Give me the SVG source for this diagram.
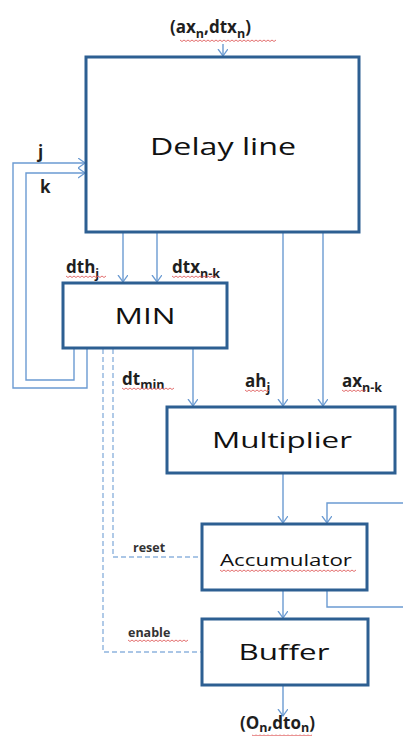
<svg xmlns="http://www.w3.org/2000/svg" width="403" height="736" viewBox="0 0 403 736">
  <defs>
    <marker id="vee" markerUnits="userSpaceOnUse" markerWidth="10" markerHeight="12" refX="7" refY="5" orient="auto">
      <path d="M0,0 L7,5 L0,10" fill="none" stroke="#6b9bd2" stroke-width="1.3"/>
    </marker>
    <style>
      .box { fill: #ffffff; stroke: #2d5f92; stroke-width: 3; }
      .wire { fill: none; stroke: #6b9bd2; stroke-width: 1.4; }
      .ctl { fill: none; stroke: #8fb4de; stroke-width: 1.4; stroke-dasharray: 5 3; }
      .title { font-family: "Open Sans", "DejaVu Sans", sans-serif; fill: #111111; text-anchor: middle; font-weight: 500; }
      .lbl { font-family: "Open Sans", "DejaVu Sans", sans-serif; font-weight: bold; fill: #1f1f1f; font-size: 17px; }
      .small { font-family: "Open Sans", "DejaVu Sans", sans-serif; font-weight: bold; fill: #333333; font-size: 12.5px; }
      .sub { font-size: 12.5px; }
      .squig { fill: none; stroke: #e06060; stroke-width: 0.9; }
    </style>
  </defs>

  <!-- connectors -->
  <g id="connectors">
    <path class="wire" d="M223,44 V56" marker-end="url(#vee)"/>
    <path class="wire" d="M87,349 V388 H13 V163 H85" marker-end="url(#vee)"/>
    <path class="wire" d="M74,349 V380 H26 V173 H85" marker-end="url(#vee)"/>
    <path class="wire" d="M123,233 V282" marker-end="url(#vee)"/>
    <path class="wire" d="M157,233 V282" marker-end="url(#vee)"/>
    <path class="wire" d="M283,233 V406" marker-end="url(#vee)"/>
    <path class="wire" d="M323,233 V406" marker-end="url(#vee)"/>
    <path class="wire" d="M193,349 V406" marker-end="url(#vee)"/>
    <path class="wire" d="M283,474 V523" marker-end="url(#vee)"/>
    <path class="wire" d="M327,591 V607 H406 V503 H327 V523" marker-end="url(#vee)"/>
    <path class="wire" d="M283,591 V618" marker-end="url(#vee)"/>
    <path class="wire" d="M283,686 V716" marker-end="url(#vee)"/>
    <path class="ctl" d="M113,349 V557 H201"/>
    <path class="ctl" d="M103,349 V652 H201"/>
  </g>

  <!-- blocks -->
  <g id="delay-line">
    <rect class="box" x="86" y="57" width="273" height="175"/>
    <text class="title" x="223" y="155" font-size="24" textLength="146" lengthAdjust="spacingAndGlyphs">Delay line</text>
  </g>
  <g id="min">
    <rect class="box" x="63" y="283" width="164" height="65"/>
    <text class="title" x="145" y="324" font-size="22" textLength="61" lengthAdjust="spacingAndGlyphs">MIN</text>
  </g>
  <g id="multiplier">
    <rect class="box" x="167" y="407" width="228" height="66"/>
    <text class="title" x="282" y="448" font-size="22" textLength="140" lengthAdjust="spacingAndGlyphs">Multiplier</text>
  </g>
  <g id="accumulator">
    <rect class="box" x="202" y="524" width="165" height="66"/>
    <text class="title" x="286" y="566" font-size="17" textLength="132" lengthAdjust="spacingAndGlyphs">Accumulator</text>
  </g>
  <g id="buffer">
    <rect class="box" x="202" y="619" width="166" height="66"/>
    <text class="title" x="284" y="660" font-size="22" textLength="91" lengthAdjust="spacingAndGlyphs">Buffer</text>
  </g>

  <!-- signal labels -->
  <g id="labels">
    <text class="lbl" x="170" y="33">(ax<tspan class="sub" dy="5">n</tspan><tspan dy="-5">,dtx</tspan><tspan class="sub" dy="5">n</tspan><tspan dy="-5">)</tspan></text>
    <text class="lbl" x="38" y="158">j</text>
    <text class="lbl" x="40" y="193">k</text>
    <text class="lbl" x="66" y="273">dth<tspan class="sub" dy="5">j</tspan></text>
    <text class="lbl" x="172" y="273">dtx<tspan class="sub" dy="5">n-k</tspan></text>
    <text class="lbl" x="122" y="385">dt<tspan class="sub" dy="4">min</tspan></text>
    <text class="lbl" x="245" y="387">ah<tspan class="sub" dy="5">j</tspan></text>
    <text class="lbl" x="342" y="387">ax<tspan class="sub" dy="5">n-k</tspan></text>
    <text class="small" x="133" y="552">reset</text>
    <text class="small" x="128" y="637">enable</text>
    <text class="lbl" x="240" y="729">(O<tspan class="sub" dy="3">n</tspan><tspan dy="-3">,dto</tspan><tspan class="sub" dy="3">n</tspan><tspan dy="-3">)</tspan></text>
  </g>

  <!-- spell-check underlines -->
  <g id="underlines">
    <path class="squig" d="M180,40 l2,1.5 l2,-1.5 l2,1.5 l2,-1.5 l2,1.5 l2,-1.5 l2,1.5 l2,-1.5 l2,1.5 l2,-1.5 l2,1.5 l2,-1.5 l2,1.5 l2,-1.5 l2,1.5 l2,-1.5 l2,1.5 l2,-1.5 l2,1.5 l2,-1.5 l2,1.5 l2,-1.5 l2,1.5 l2,-1.5 l2,1.5 l2,-1.5 l2,1.5 l2,-1.5 l2,1.5 l2,-1.5 l2,1.5 l2,-1.5 l2,1.5 l2,-1.5 l2,1.5 l2,-1.5 l2,1.5 l2,-1.5 l2,1.5 l2,-1.5 l2,1.5 l2,-1.5 l2,1.5 l2,-1.5 l2,1.5 l2,-1.5 l2,1.5 l2,-1.5"/>
    <path class="squig" d="M66,276 l2,1.5 l2,-1.5 l2,1.5 l2,-1.5 l2,1.5 l2,-1.5 l2,1.5 l2,-1.5 l2,1.5 l2,-1.5 l2,1.5 l2,-1.5 l2,1.5 l2,-1.5 l2,1.5 l2,-1.5 l2,1.5 l2,-1.5 l2,1.5 l2,-1.5"/>
    <path class="squig" d="M172,276 l2,1.5 l2,-1.5 l2,1.5 l2,-1.5 l2,1.5 l2,-1.5 l2,1.5 l2,-1.5 l2,1.5 l2,-1.5 l2,1.5 l2,-1.5 l2,1.5 l2,-1.5 l2,1.5 l2,-1.5 l2,1.5 l2,-1.5 l2,1.5 l2,-1.5 l2,1.5 l2,-1.5"/>
    <path class="squig" d="M122,388 l2,1.5 l2,-1.5 l2,1.5 l2,-1.5 l2,1.5 l2,-1.5 l2,1.5 l2,-1.5 l2,1.5 l2,-1.5 l2,1.5 l2,-1.5 l2,1.5 l2,-1.5 l2,1.5 l2,-1.5 l2,1.5 l2,-1.5 l2,1.5 l2,-1.5 l2,1.5 l2,-1.5 l2,1.5 l2,-1.5 l2,1.5 l2,-1.5"/>
    <path class="squig" d="M245,390 l2,1.5 l2,-1.5 l2,1.5 l2,-1.5 l2,1.5 l2,-1.5 l2,1.5 l2,-1.5 l2,1.5 l2,-1.5 l2,1.5 l2,-1.5"/>
    <path class="squig" d="M342,390 l2,1.5 l2,-1.5 l2,1.5 l2,-1.5 l2,1.5 l2,-1.5 l2,1.5 l2,-1.5 l2,1.5 l2,-1.5 l2,1.5 l2,-1.5"/>
    <path class="squig" d="M220,570 l2,1.5 l2,-1.5 l2,1.5 l2,-1.5 l2,1.5 l2,-1.5 l2,1.5 l2,-1.5 l2,1.5 l2,-1.5 l2,1.5 l2,-1.5 l2,1.5 l2,-1.5 l2,1.5 l2,-1.5 l2,1.5 l2,-1.5 l2,1.5 l2,-1.5 l2,1.5 l2,-1.5 l2,1.5 l2,-1.5 l2,1.5 l2,-1.5 l2,1.5 l2,-1.5 l2,1.5 l2,-1.5 l2,1.5 l2,-1.5 l2,1.5 l2,-1.5 l2,1.5 l2,-1.5 l2,1.5 l2,-1.5 l2,1.5 l2,-1.5 l2,1.5 l2,-1.5 l2,1.5 l2,-1.5 l2,1.5 l2,-1.5 l2,1.5 l2,-1.5 l2,1.5 l2,-1.5 l2,1.5 l2,-1.5 l2,1.5 l2,-1.5 l2,1.5 l2,-1.5 l2,1.5 l2,-1.5 l2,1.5 l2,-1.5 l2,1.5 l2,-1.5 l2,1.5 l2,-1.5 l2,1.5 l2,-1.5 l2,1.5 l2,-1.5"/>
    <path class="squig" d="M128,640 l2,1.5 l2,-1.5 l2,1.5 l2,-1.5 l2,1.5 l2,-1.5 l2,1.5 l2,-1.5 l2,1.5 l2,-1.5 l2,1.5 l2,-1.5 l2,1.5 l2,-1.5 l2,1.5 l2,-1.5 l2,1.5 l2,-1.5 l2,1.5 l2,-1.5 l2,1.5 l2,-1.5 l2,1.5 l2,-1.5 l2,1.5 l2,-1.5 l2,1.5 l2,-1.5 l2,1.5 l2,-1.5"/>
    <path class="squig" d="M252,735 l2,1 l2,-1 l2,1 l2,-1 l2,1 l2,-1 l2,1 l2,-1 l2,1 l2,-1 l2,1 l2,-1 l2,1 l2,-1 l2,1 l2,-1 l2,1 l2,-1 l2,1 l2,-1 l2,1 l2,-1 l2,1 l2,-1 l2,1 l2,-1 l2,1 l2,-1 l2,1 l2,-1"/>
  </g>
</svg>
